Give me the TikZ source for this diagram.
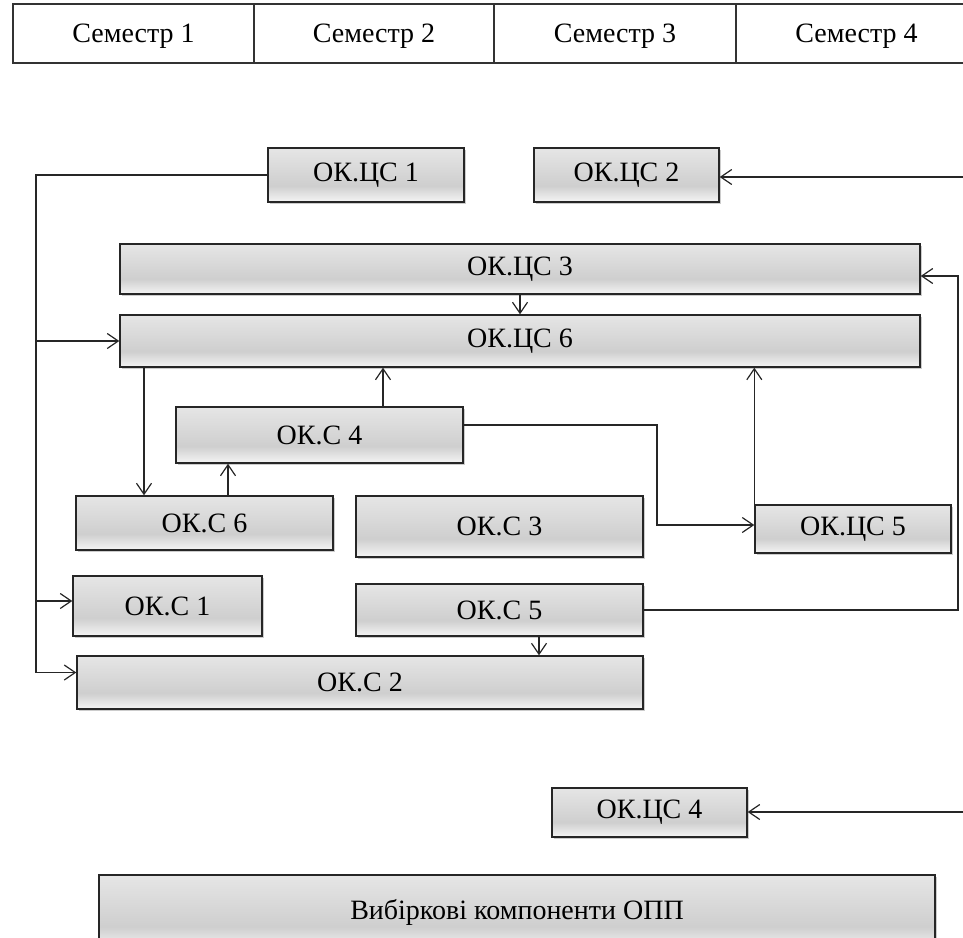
\documentclass[tikz,border=0pt]{standalone}
\usepackage{fontspec}
\setmainfont{Liberation Serif}
\usetikzlibrary{arrows.meta,shadows}
\pgfdeclareverticalshading{okshade}{100bp}{color(0bp)=(gray!8); color(25bp)=(gray!8); color(40bp)=(gray!38); color(75bp)=(gray!20); color(100bp)=(gray!20)}
\begin{document}
\begin{tikzpicture}[x=1pt, y=-1pt,
	every node/.style={font=\fontsize{28}{31}\selectfont, inner sep=0pt},
	semcell/.style={draw=black!80, line width=1.3pt, minimum height=59pt, text depth=-2pt},
	okbox/.style={draw=black!85, line width=1.4pt, shading=okshade,
		drop shadow={shadow xshift=2pt, shadow yshift=-2pt, opacity=.2, fill=black}},
	arr/.style={line width=1.2pt, black!85, -{Straight Barb[length=11pt, width=15pt, line width=1.2pt]}}]
	\useasboundingbox (0,0) rectangle (963,937);
	\clip (0,0) rectangle (963,937);
	\node[semcell, minimum width=241pt] (s1) at (133.5,33.5) {Семестр 1};
	\node[semcell, minimum width=240pt] (s2) at (374,33.5) {Семестр 2};
	\node[semcell, minimum width=242pt] (s3) at (615,33.5) {Семестр 3};
	\node[semcell, minimum width=241pt] (s4) at (856.5,33.5) {Семестр 4};
	\node[okbox, minimum width=196pt, minimum height=54pt] (c1) at (366,175) {ОК.ЦС 1};
	\node[okbox, minimum width=185pt, minimum height=54pt] (c2) at (626.5,175) {ОК.ЦС 2};
	\node[okbox, minimum width=800pt, minimum height=50pt] (c3) at (520,269) {ОК.ЦС 3};
	\node[okbox, minimum width=800pt, minimum height=52pt] (c6) at (520,341) {ОК.ЦС 6};
	\node[okbox, minimum width=287pt, minimum height=56pt] (k4) at (319.5,435) {ОК.С 4};
	\node[okbox, minimum width=257pt, minimum height=54pt] (k6) at (204.5,523) {ОК.С 6};
	\node[okbox, minimum width=287pt, minimum height=61pt] (k3) at (499.5,526.5) {ОК.С 3};
	\node[okbox, minimum width=196pt, minimum height=48pt] (c5) at (853,529) {ОК.ЦС 5};
	\node[okbox, minimum width=189pt, minimum height=60pt] (k1) at (167.5,606) {ОК.С 1};
	\node[okbox, minimum width=287pt, minimum height=52pt] (k5) at (499.5,610) {ОК.С 5};
	\node[okbox, minimum width=566pt, minimum height=53pt] (k2) at (360,682.5) {ОК.С 2};
	\node[okbox, minimum width=195pt, minimum height=49pt] (c4) at (649.5,812.5) {ОК.ЦС 4};
	\node[okbox, minimum width=836pt, minimum height=74pt] (vk) at (517,912) {Вибіркові компоненти ОПП};
	\coordinate (bus) at (36,0);
	\coordinate (rbus) at (958,0);
	\coordinate (r2) at (975,177);
	\coordinate (r4) at (975,812);
	\coordinate (k2in) at ([yshift=10pt]k2.west);
	\coordinate (k1in) at ([yshift=5pt]k1.west);
	\coordinate (c3in) at ([yshift=-7pt]c3.east);
	\coordinate (c5in) at ([yshift=4pt]c5.west);
	\coordinate (k4out) at ([yshift=10pt]k4.east);
	\draw[arr] (c1.west) -| (bus |- k2in) -- (k2in);
	\draw[arr] (bus |- c6.west) -- (c6.west);
	\draw[arr] (bus |- k1in) -- (k1in);
	\draw[arr] (r2) -- (c2.east |- r2);
	\draw[arr] (k5.east) -| (rbus |- c3in) -- (c3in);
	\draw[arr] (c3.south) -- (c6.north);
	\draw[arr] (c6.south -| 144,0) -- (k6.north -| 144,0);
	\draw[arr] (k6.north -| 228,0) -- (k4.south -| 228,0);
	\draw[arr] (k4.north -| 383,0) -- (c6.south -| 383,0);
	\draw[arr] (k4out) -| (c5in -| 657,0) -- (c5in);
	\draw[arr] (c5.north west) -- (c6.south -| c5.north west);
	\draw[arr] (k5.south -| 539,0) -- (k2.north -| 539,0);
	\draw[arr] (r4) -- (c4.east |- r4);
\end{tikzpicture}
\end{document}
